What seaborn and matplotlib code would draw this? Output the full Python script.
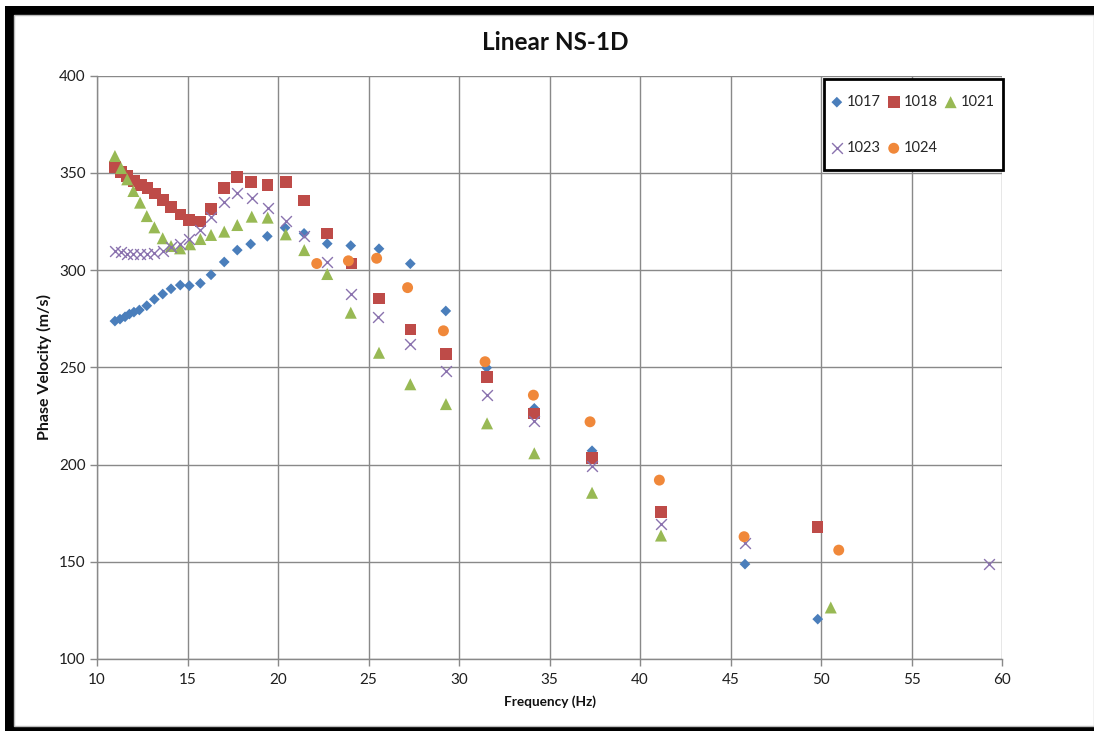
import matplotlib
matplotlib.use("Agg")
import matplotlib.pyplot as plt
from matplotlib.patches import Rectangle
import seaborn as sns
import pandas as pd

# Phase velocity dispersion picks (frequency in Hz, velocity in m/s)
freq_1017 = [10.99, 11.27, 11.55, 11.79, 12.04, 12.34, 12.75, 13.17, 13.63, 14.09, 14.60,
             15.10, 15.71, 16.30, 17.03, 17.75, 18.49, 19.41, 20.39, 21.44, 22.72, 24.02,
             25.58, 27.31, 29.27, 31.53, 34.16, 37.35, 45.80, 49.82]
vel_1017 = [273.8, 274.8, 276.0, 277.4, 278.4, 279.5, 281.7, 285.0, 287.7, 290.4, 292.3,
            292.0, 293.2, 297.6, 304.2, 310.3, 313.4, 317.4, 321.8, 318.9, 313.6, 312.6,
            311.0, 303.3, 279.0, 249.8, 228.9, 207.1, 148.8, 120.5]

freq_1018 = [10.99, 11.33, 11.67, 12.06, 12.43, 12.78, 13.20, 13.65, 14.10, 14.62, 15.10,
             15.71, 16.30, 17.03, 17.75, 18.51, 19.43, 20.43, 21.45, 22.72, 24.07, 25.58,
             27.31, 29.27, 31.55, 34.16, 37.35, 41.16, 49.80]
vel_1018 = [353.2, 350.6, 348.4, 346.0, 343.8, 342.1, 339.5, 336.1, 332.6, 328.7, 325.8,
            325.1, 331.4, 342.1, 348.0, 345.2, 343.8, 345.2, 335.9, 318.8, 303.5, 285.5,
            269.5, 256.9, 244.9, 226.3, 203.5, 175.5, 168.0]

freq_1021 = [10.99, 11.33, 11.67, 12.01, 12.38, 12.75, 13.17, 13.63, 14.09, 14.59, 15.14,
             15.71, 16.30, 17.03, 17.75, 18.55, 19.43, 20.43, 21.45, 22.72, 24.02, 25.58,
             27.31, 29.28, 31.55, 34.16, 37.35, 41.16, 50.54]
vel_1021 = [358.7, 352.5, 346.7, 340.7, 334.7, 327.8, 322.0, 316.4, 312.4, 311.2, 313.3,
            316.0, 318.1, 319.8, 323.2, 327.5, 327.0, 318.4, 310.3, 298.0, 278.1, 257.5,
            241.3, 231.1, 221.2, 205.8, 185.5, 163.5, 126.5]

freq_1023 = [10.99, 11.33, 11.67, 12.01, 12.38, 12.75, 13.17, 13.63, 14.09, 14.59, 15.10,
             15.71, 16.30, 17.03, 17.75, 18.55, 19.43, 20.43, 21.45, 22.72, 24.02, 25.52,
             27.31, 29.27, 31.55, 34.16, 37.35, 41.16, 45.80, 59.30]
vel_1023 = [309.8, 309.2, 308.4, 308.1, 308.1, 308.1, 308.8, 309.8, 311.7, 313.4, 315.8,
            320.6, 327.2, 335.2, 339.5, 337.2, 331.8, 325.3, 317.7, 304.3, 287.7, 275.7,
            261.8, 248.2, 235.7, 222.4, 199.4, 169.4, 159.8, 148.8]

freq_1024 = [22.14, 23.89, 25.45, 27.16, 29.14, 31.44, 34.11, 37.24, 41.07, 45.75, 50.98]
vel_1024 = [303.4, 304.8, 306.1, 291.0, 268.8, 252.9, 235.7, 222.0, 192.0, 162.9, 156.0]

series_names = ["1017", "1018", "1021", "1023", "1024"]
series_freq = [freq_1017, freq_1018, freq_1021, freq_1023, freq_1024]
series_vel = [vel_1017, vel_1018, vel_1021, vel_1023, vel_1024]

x_ticks = [10, 15, 20, 25, 30, 35, 40, 45, 50, 55, 60]
y_ticks = [100, 150, 200, 250, 300, 350, 400]

frames = [pd.DataFrame({"Frequency": f, "Velocity": v, "Site": n})
          for n, f, v in zip(series_names, series_freq, series_vel)]
df = pd.concat(frames, ignore_index=True)

styles = {
    "1017": dict(marker="D", color="#4A7EBB", s=30, lw=0),
    "1018": dict(marker="s", color="#BE4B48", s=70, lw=0),
    "1021": dict(marker="^", color="#98B954", s=75, lw=0),
    "1023": dict(marker="x", color="#8A72AE", s=60, lw=1.0),
    "1024": dict(marker="o", color="#F0883A", s=62, lw=0),
}

sns.set_theme(style="white")
plt.rcParams["font.family"] = ["Lato", "DejaVu Sans"]

W, H = 1094, 731
fig = plt.figure(figsize=(W / 100, H / 100), dpi=100)
fig.patch.set_facecolor("white")


def fx(px):
    return px / W


def fy(py):
    return 1 - py / H


AX_L, AX_R, AX_T, AX_B = 97, 1002, 75.7, 659
ax = fig.add_axes([fx(AX_L), fy(AX_B), fx(AX_R) - fx(AX_L), fy(AX_T) - fy(AX_B)])


def ax_x(px):
    return (px - AX_L) / (AX_R - AX_L)


def ax_y(py):
    return 1 - (py - AX_T) / (AX_B - AX_T)


for name in series_names:
    st = styles[name]
    sub = df[df["Site"] == name]
    if st["marker"] == "x":
        sns.scatterplot(data=sub, x="Frequency", y="Velocity", ax=ax, marker="x",
                        color=st["color"], s=st["s"], linewidth=st["lw"], label=name,
                        zorder=3)
    else:
        sns.scatterplot(data=sub, x="Frequency", y="Velocity", ax=ax, marker=st["marker"],
                        color=st["color"], s=st["s"], edgecolor="none", label=name,
                        zorder=3)

ax.set_xlim(10, 60)
ax.set_ylim(100, 400)
ax.set_xticks(x_ticks)
ax.set_yticks(y_ticks)
ax.grid(True, color="#898989", linewidth=1.0, zorder=0)
ax.set_axisbelow(True)
for side in ["top", "right"]:
    ax.spines[side].set_visible(False)
for side in ["left", "bottom"]:
    ax.spines[side].set_color("#898989")
    ax.spines[side].set_linewidth(1.0)
ax.tick_params(axis="both", which="major", direction="out", length=5, width=1.0,
               color="#898989", labelsize=11, labelcolor="#1F1F1F", pad=3,
               bottom=True, left=True)
ax.tick_params(axis="x", pad=5)

ax.set_xlabel("Frequency (Hz)", fontsize=9.8, fontweight="bold", color="#111111", labelpad=6)
ax.set_ylabel("Phase Velocity (m/s)", fontsize=11.5, fontweight="bold", color="#111111",
              labelpad=5)

fig.text(fx(555), fy(43), "Linear NS-1D", ha="center", va="center", fontsize=17.5,
         fontweight="bold", color="#111111")

# Legend box with a heavy black outline
ax.add_patch(Rectangle((ax_x(824), ax_y(170)), ax_x(1003) - ax_x(824), ax_y(79) - ax_y(170),
                       transform=ax.transAxes, facecolor="white", edgecolor="black",
                       linewidth=2.0, zorder=4.5, clip_on=False))

# Legend entries laid out row by row: 1017 1018 1021 / 1023 1024
h, l = ax.get_legend_handles_labels()
lut = dict(zip(l, h))
order = ["1017", "1023", "1018", "1024", "1021"]
leg = ax.legend([lut[k] for k in order], order, loc="upper left",
                bbox_to_anchor=(ax_x(831), ax_y(95)),
                bbox_transform=ax.transAxes, ncol=3, frameon=False,
                fontsize=10.5, handletextpad=0.27, columnspacing=0.5, labelspacing=2.2,
                borderpad=0.0, handlelength=0.8, markerscale=1.0, borderaxespad=0)
leg.set_zorder(5)

# Window frame around the chart
frame_color = "black"
fig.add_artist(Rectangle((fx(5), fy(15)), fx(W) - fx(5), fy(6) - fy(15),
                         transform=fig.transFigure, color=frame_color, lw=0))
fig.add_artist(Rectangle((fx(5), fy(731)), fx(14) - fx(5), fy(6) - fy(731),
                         transform=fig.transFigure, color=frame_color, lw=0))
fig.add_artist(Rectangle((fx(5), fy(731)), fx(W) - fx(5), fy(726) - fy(731),
                         transform=fig.transFigure, color=frame_color, lw=0))
fig.add_artist(Rectangle((fx(14), fy(726)), fx(W) - fx(14), fy(15) - fy(726),
                         transform=fig.transFigure, fill=False, edgecolor="#BDBDBD", lw=1.0))

fig.savefig("out.png", dpi=100, facecolor="white")
